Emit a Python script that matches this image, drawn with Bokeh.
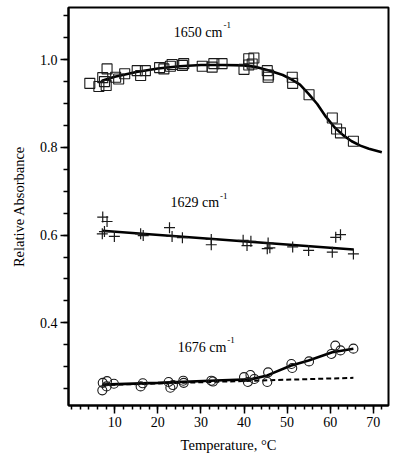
from bokeh.plotting import figure
from bokeh.models import FixedTicker, Range1d, ColumnDataSource, PrintfTickFormatter
from bokeh.core.properties import value
from bokeh.embed import file_html
from bokeh.resources import INLINE
import numpy as np

# ---- data ----
temp_1650 = [4.2, 6.3, 7.2, 7.6, 8.0, 8.2, 10.2, 10.9, 12.3, 15.2, 16.0, 17.1, 20.4, 21.4,
             22.9, 23.3, 25.7, 26.0, 30.3, 32.6, 33.0, 34.9, 40.0, 41.1, 41.1, 41.9, 42.3,
             45.4, 45.6, 45.7, 51.2, 51.3, 55.1, 60.5, 61.5, 62.4, 65.4]
abs_1650 = [0.946, 0.939, 0.959, 0.950, 0.941, 0.979, 0.960, 0.956, 0.968, 0.975, 0.964, 0.975,
            0.982, 0.979, 0.985, 0.989, 0.987, 0.991, 0.985, 0.983, 0.991, 0.991, 0.978, 1.002,
            0.988, 0.990, 1.004, 0.975, 0.960, 0.965, 0.960, 0.946, 0.920, 0.867, 0.842, 0.833,
            0.814]
fit_1650_t = [7, 10, 15, 20, 25, 30, 35, 40, 43, 46, 49, 51, 53, 55, 57, 59, 61, 63, 65, 67, 69, 72]
fit_1650_a = [0.952, 0.961, 0.972, 0.980, 0.985, 0.988, 0.988, 0.987, 0.983, 0.975, 0.965,
              0.955, 0.943, 0.922, 0.899, 0.870, 0.846, 0.828, 0.814, 0.804, 0.797, 0.789]

temp_1629 = [7.1, 7.2, 7.6, 8.2, 9.9, 16.0, 16.6, 22.7, 23.3, 25.7, 32.4, 32.4, 39.8, 40.7,
             41.6, 45.4, 45.6, 46.0, 51.3, 55.0, 60.5, 61.3, 62.4, 65.4]
abs_1629 = [0.603, 0.641, 0.608, 0.631, 0.597, 0.603, 0.599, 0.617, 0.597, 0.594, 0.590, 0.578,
            0.588, 0.576, 0.586, 0.569, 0.582, 0.571, 0.573, 0.565, 0.561, 0.595, 0.601, 0.557]
fit_1629_t = [7.1, 65.4]
fit_1629_a = [0.610, 0.567]

temp_1676 = [7.1, 7.2, 8.1, 8.2, 9.8, 16.0, 16.5, 22.5, 22.9, 23.5, 25.9, 26.0, 32.4, 32.8,
             40.0, 40.9, 41.5, 42.4, 45.4, 45.6, 51.0, 51.2, 55.1, 60.3, 61.2, 62.4, 65.4]
abs_1676 = [0.246, 0.263, 0.255, 0.267, 0.261, 0.255, 0.262, 0.265, 0.252, 0.258, 0.268, 0.263,
            0.268, 0.266, 0.276, 0.265, 0.281, 0.272, 0.265, 0.287, 0.306, 0.297, 0.312, 0.329,
            0.348, 0.337, 0.341]
fit_1676_t = [7.1, 20, 35, 41.5, 45.4, 50.8, 55.0, 60.5, 65.4]
fit_1676_a = [0.259, 0.263, 0.269, 0.271, 0.280, 0.302, 0.314, 0.333, 0.341]
base_1676_t = [7.1, 65.4]
base_1676_a = [0.258, 0.2745]

band_names = ["1650 cm", "1629 cm", "1676 cm"]
band_sup = ["-1", "-1", "-1"]
band_lab_t = [35.0, 34.2, 35.9]
band_lab_a = [1.062, 0.674, 0.3437]

x_ticks = [10, 20, 30, 40, 50, 60, 70]
y_ticks = [0.4, 0.6, 0.8, 1.0]

FONT = "Liberation Serif"
INK = "#1a1a1a"

p = figure(width=392, height=461, output_backend="svg", toolbar_location=None,
           x_range=Range1d(-0.75, 73.55), y_range=Range1d(0.2114, 1.119),
           min_border_left=68, min_border_right=4, min_border_top=7, min_border_bottom=56)
p.background_fill_color = "white"
p.border_fill_color = "white"
p.outline_line_color = "black"
p.outline_line_width = 2
p.xgrid.visible = False
p.ygrid.visible = False

# fits
p.line(fit_1650_t, fit_1650_a, line_color="black", line_width=2.6)
p.line(fit_1629_t, fit_1629_a, line_color="black", line_width=2.6)
p.line(fit_1676_t, fit_1676_a, line_color="black", line_width=2.6)
p.line(base_1676_t, base_1676_a, line_color="black", line_width=2, line_dash="5 3")

# markers
p.scatter(temp_1650, abs_1650, marker="square", size=10, fill_color=None,
          line_color=INK, line_width=1.1)
p.scatter(temp_1629, abs_1629, marker="cross", size=11, line_color=INK, line_width=1.2)
p.scatter(temp_1676, abs_1676, marker="circle", size=9, fill_color=None,
          line_color=INK, line_width=1.1)

# band labels
src = ColumnDataSource(dict(t=band_lab_t, a=band_lab_a, name=band_names, sup=band_sup))
p.text(x="t", y="a", text="name", source=src, text_font=value(FONT), text_font_size="14px",
       text_align="right", text_baseline="alphabetic", text_color="black")
p.text(x="t", y="a", text="sup", source=src, text_font=value(FONT), text_font_size="9px",
       text_align="left", text_baseline="alphabetic", text_color="black", x_offset=1, y_offset=-7)

# axes
p.xaxis.ticker = FixedTicker(ticks=x_ticks, minor_ticks=list(np.arange(0, 74, 2)))
p.yaxis.ticker = FixedTicker(ticks=y_ticks, minor_ticks=list(np.round(np.arange(0.25, 1.11, 0.05), 2)))
p.xaxis.formatter = PrintfTickFormatter(format="%d")
p.yaxis.formatter = PrintfTickFormatter(format="%.1f")
for ax in (p.xaxis, p.yaxis):
    ax.axis_line_width = 2
    ax.axis_line_color = "black"
    ax.major_tick_line_color = "black"
    ax.minor_tick_line_color = "black"
    ax.major_tick_line_width = 1.5
    ax.minor_tick_line_width = 1.5
    ax.major_tick_in = 0
    ax.minor_tick_in = 0
    ax.major_tick_out = 8
    ax.minor_tick_out = 4
    ax.major_label_text_font = FONT
    ax.major_label_text_font_size = "14px"
    ax.major_label_text_color = "black"
    ax.axis_label_text_font = FONT
    ax.axis_label_text_font_size = "14.5px"
    ax.axis_label_text_font_style = "normal"
    ax.axis_label_text_color = "black"
p.xaxis.axis_label = "Temperature, °C"
p.yaxis.axis_label = "Relative Absorbance"
p.xaxis.major_label_standoff = 3
p.xaxis.axis_label_standoff = 7
p.yaxis.major_label_standoff = 3
p.yaxis.axis_label_standoff = 10
p.yaxis.minor_tick_out = 5

open("out.html", "w").write(file_html(p, INLINE))
